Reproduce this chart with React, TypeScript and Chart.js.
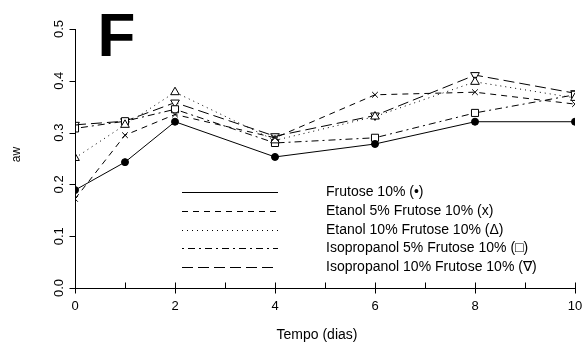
import React, { useEffect, useRef } from 'react';
import { Chart, registerables } from 'chart.js';

Chart.register(...registerables);

const days = [0, 1, 2, 4, 6, 8, 10];
const frutose = [0.189, 0.243, 0.321, 0.253, 0.278, 0.321, 0.321];
const etanol5 = [0.172, 0.295, 0.335, 0.29, 0.373, 0.378, 0.355];
const etanol10 = [0.251, 0.315, 0.378, 0.285, 0.331, 0.398, 0.367];
const isoprop5 = [0.308, 0.322, 0.345, 0.28, 0.29, 0.338, 0.373];
const isoprop10 = [0.315, 0.322, 0.358, 0.293, 0.333, 0.411, 0.376];

const seriesLabels = [
  'Frutose 10% (•)',
  'Etanol 5% Frutose 10% (x)',
  'Etanol 10% Frutose 10% (Δ)',
  'Isopropanol 5% Frutose 10% (□)',
  'Isopropanol 10% Frutose 10% (∇)',
];

const yTicks = [0, 0.1, 0.2, 0.3, 0.4, 0.5];
const yTickLabels = ['0.0', '0.1', '0.2', '0.3', '0.4', '0.5'];
const xTicks = [0, 2, 4, 6, 8, 10];
const xTickLabels = ['0', '2', '4', '6', '8', '10'];
const xMinorTicks = [1, 3, 5, 7, 9];
const xTitle = 'Tempo (dias)';
const yTitle = 'aw';
const panelLetter = 'F';

const FONT = '"Liberation Sans", Arial, sans-serif';

const decor = {
  id: 'decor',
  afterDraw(chart: any) {
    const { ctx, chartArea } = chart;
    const x = chart.scales.x;
    const y = chart.scales.y;
    ctx.save();
    ctx.strokeStyle = '#000';
    ctx.fillStyle = '#000';
    ctx.lineWidth = 1;
    ctx.setLineDash([]);
    const yb = Math.round(y.getPixelForValue(0)) + 0.5;
    const xl = Math.round(x.getPixelForValue(0)) + 0.5;
    // axes lines
    ctx.beginPath();
    ctx.moveTo(xl, Math.round(y.getPixelForValue(0.5)));
    ctx.lineTo(xl, yb);
    ctx.lineTo(Math.round(x.getPixelForValue(10)) + 1, yb);
    ctx.stroke();
    // y ticks
    ctx.beginPath();
    yTicks.forEach((v) => {
      const py = Math.round(y.getPixelForValue(v)) + 0.5;
      ctx.moveTo(xl - 6, py);
      ctx.lineTo(xl, py);
    });
    // x major ticks (crossing)
    xTicks.forEach((v) => {
      const px = Math.round(x.getPixelForValue(v)) + 0.5;
      ctx.moveTo(px, yb - 6);
      ctx.lineTo(px, yb + 5);
    });
    // x minor ticks (inside)
    xMinorTicks.forEach((v) => {
      const px = Math.round(x.getPixelForValue(v)) + 0.5;
      ctx.moveTo(px, yb - 6);
      ctx.lineTo(px, yb);
    });
    ctx.stroke();

    // y tick labels rotated
    ctx.font = `13px ${FONT}`;
    ctx.textAlign = 'center';
    ctx.textBaseline = 'middle';
    yTicks.forEach((v, i) => {
      const py = y.getPixelForValue(v);
      ctx.save();
      ctx.translate(xl - 16, py);
      ctx.rotate(-Math.PI / 2);
      ctx.fillText(yTickLabels[i], 0, 0);
      ctx.restore();
    });
    // x tick labels
    xTicks.forEach((v, i) => {
      const px = x.getPixelForValue(v);
      ctx.fillText(xTickLabels[i], px, yb + 18);
    });
    // titles
    ctx.font = `14px ${FONT}`;
    ctx.fillText(xTitle, (chartArea.left + chartArea.right) / 2 - 8, yb + 47);
    ctx.save();
    ctx.translate(xl - 59, (chartArea.top + chartArea.bottom) / 2 - 4);
    ctx.rotate(-Math.PI / 2);
    ctx.font = `12px ${FONT}`;
    ctx.fillText(yTitle, 0, 0);
    ctx.restore();

    // panel letter
    ctx.font = `bold 62px ${FONT}`;
    ctx.textAlign = 'left';
    ctx.textBaseline = 'alphabetic';
    ctx.fillText(panelLetter, xl + 22, chartArea.top + 27);

    // legend
    const lx0 = chartArea.left + 107;
    const lx1 = chartArea.left + 203;
    const tx = chartArea.left + 251;
    const ly0 = chartArea.top + 163;
    const dy = 18.8;
    ctx.font = `14px ${FONT}`;
    ctx.textBaseline = 'middle';
    chart.data.datasets.forEach((ds: any, i: number) => {
      const py = Math.round(ly0 + i * dy) + 0.5;
      ctx.setLineDash(ds.borderDash || []);
      ctx.beginPath();
      ctx.moveTo(lx0, py);
      ctx.lineTo(lx1, py);
      ctx.stroke();
      ctx.setLineDash([]);
      ctx.fillText(ds.label, tx, py);
    });
    ctx.restore();
  },
};

export default function App() {
  const ref = useRef<HTMLCanvasElement | null>(null);
  useEffect(() => {
    document.body.style.margin = '0';
    const mk = (arr: number[]) => days.map((d, i) => ({ x: d, y: arr[i] }));
    const base = {
      borderColor: '#000',
      borderWidth: 1,
      pointBorderColor: '#000',
      pointBorderWidth: 1,
      tension: 0,
      showLine: true,
      fill: false,
    };
    const chart = new Chart(ref.current as HTMLCanvasElement, {
      type: 'scatter',
      data: {
        datasets: [
          {
            ...base,
            label: seriesLabels[0],
            data: mk(frutose),
            borderDash: [],
            pointStyle: 'circle',
            pointRadius: 3.5,
            pointBackgroundColor: '#000',
          },
          {
            ...base,
            label: seriesLabels[1],
            data: mk(etanol5),
            borderDash: [6, 5],
            pointStyle: 'crossRot',
            pointRadius: 4,
            pointBackgroundColor: '#fff',
          },
          {
            ...base,
            label: seriesLabels[2],
            data: mk(etanol10),
            borderDash: [1, 4],
            pointStyle: 'triangle',
            pointRadius: 5,
            pointBackgroundColor: '#fff',
          },
          {
            ...base,
            label: seriesLabels[3],
            data: mk(isoprop5),
            borderDash: [2, 4, 7, 4],
            pointStyle: 'rect',
            pointRadius: 5,
            pointBackgroundColor: '#fff',
          },
          {
            ...base,
            label: seriesLabels[4],
            data: mk(isoprop10),
            borderDash: [11, 5],
            pointStyle: 'triangle',
            pointRotation: 180,
            pointRadius: 5,
            pointBackgroundColor: '#fff',
          },
        ] as any,
      },
      options: {
        animation: false,
        responsive: false,
        maintainAspectRatio: false,
        layout: { padding: { top: 29, right: 10, left: 0, bottom: 0 } },
        plugins: { legend: { display: false }, tooltip: { enabled: false } },
        scales: {
          x: {
            type: 'linear',
            min: 0,
            max: 10,
            grid: { display: false },
            border: { display: false },
            ticks: { display: false },
            afterFit: (s: any) => { s.height = 63; },
          },
          y: {
            type: 'linear',
            min: 0,
            max: 0.5,
            grid: { display: false },
            border: { display: false },
            ticks: { display: false },
            afterFit: (s: any) => { s.width = 75; },
          },
        },
      } as any,
      plugins: [decor],
    });
    return () => chart.destroy();
  }, []);
  return (
    <div style={{ width: 585, height: 351, background: '#fff' }}>
      <canvas ref={ref} width={585} height={351} style={{ display: 'block' }} />
    </div>
  );
}
